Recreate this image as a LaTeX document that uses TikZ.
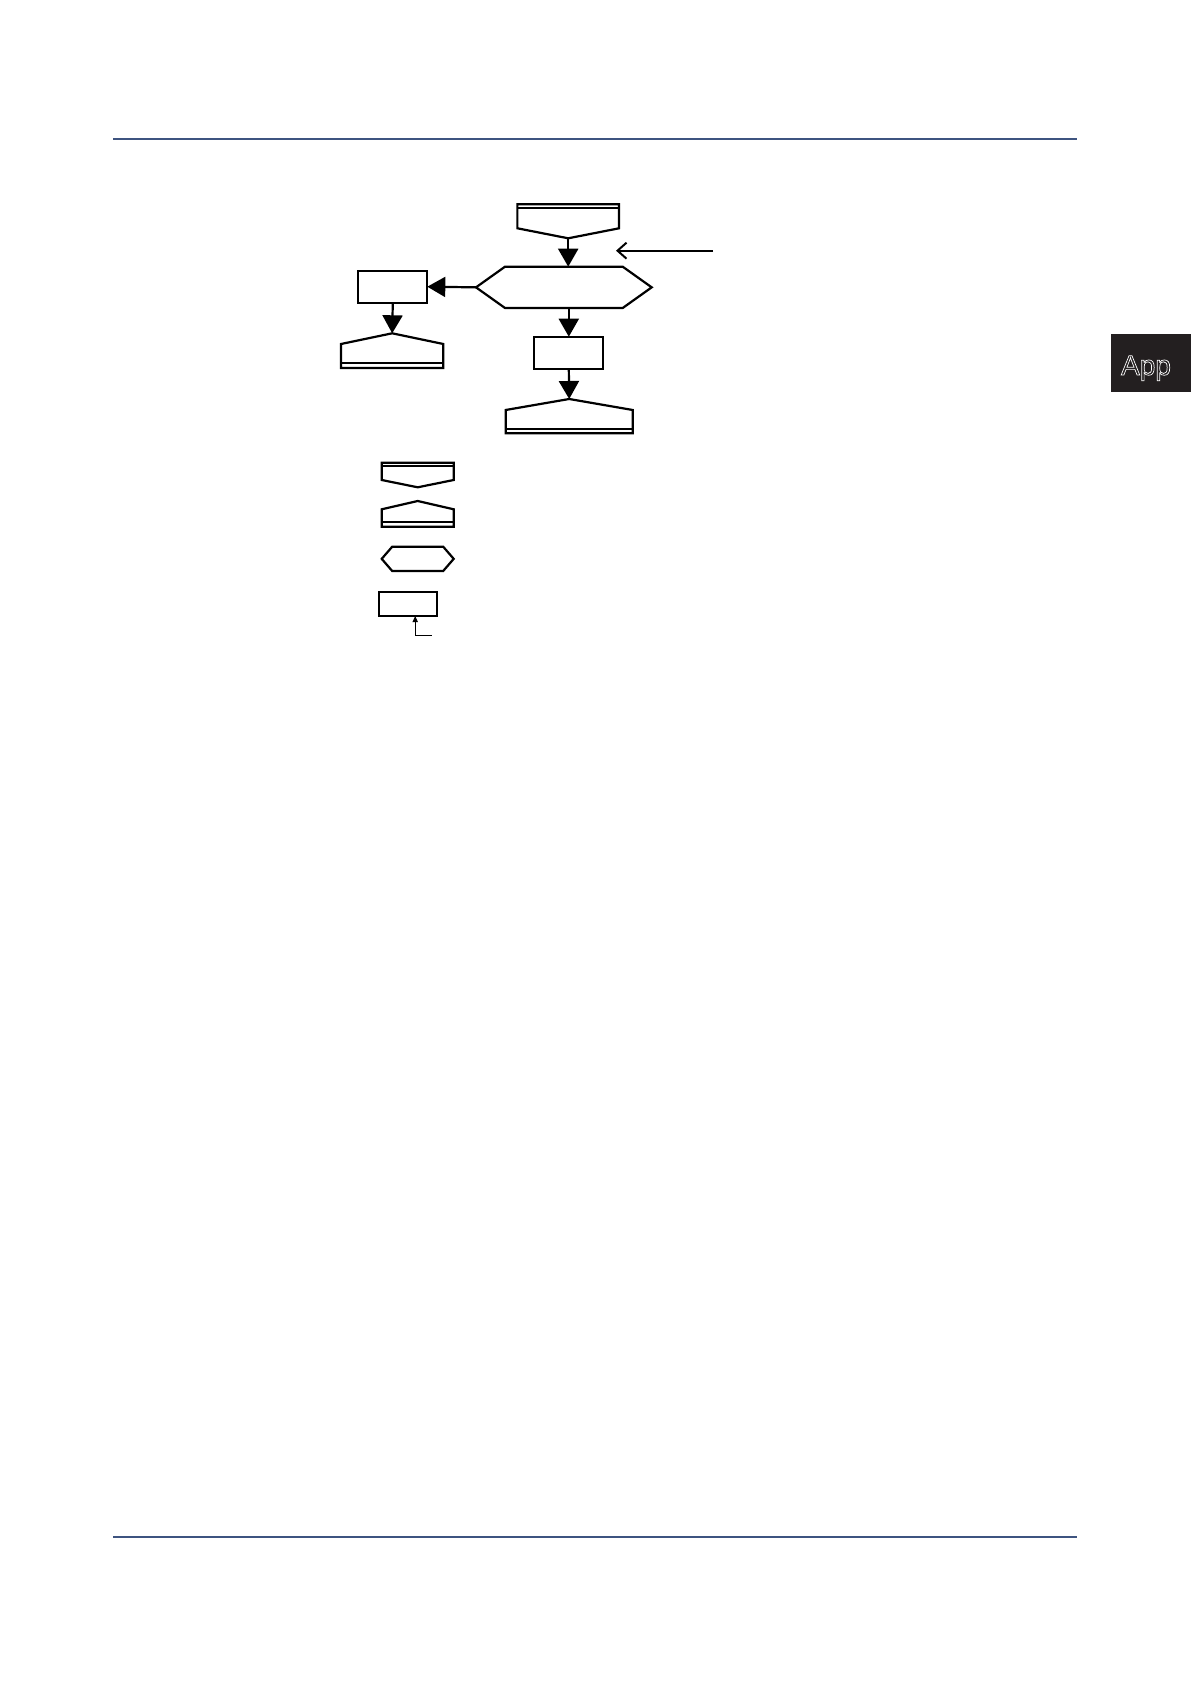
\documentclass[tikz,border=0pt]{standalone}
\usepackage{fontspec}
\setmainfont{Liberation Sans}
\usetikzlibrary{arrows.meta}
\definecolor{bleufilet}{RGB}{62,84,128}
\definecolor{noironglet}{RGB}{35,31,32}
\begin{document}
\begin{tikzpicture}[x=0.5pt,y=-0.5pt]
	\tikzstyle{trait}=[line width=1.1pt,line join=miter]
	\tikzstyle{double}=[line width=0.9pt]
	\tikzstyle{fleche}=[-{Triangle[length=9pt,width=10pt]},line width=1.1pt]
	\tikzstyle{renvoi}=[-{Straight Barb[length=4.5pt,width=8pt]},line width=1pt]
	\tikzstyle{petitefleche}=[-{Triangle[length=3pt,width=2.6pt]},line width=0.5pt]
	\tikzstyle{noeud}=[inner sep=0pt,outer sep=0pt]
	\tikzstyle{boite}=[noeud,draw,line width=1pt]
	\tikzstyle{filet}=[bleufilet,line width=1pt]
	\useasboundingbox (0,0) rectangle (1191,1684);
	% filets de page
	\draw[filet] (113,139.3) -- (1077,139.3);
	\draw[filet] (113,1537) -- (1077,1537);
	% onglet
	\fill[noironglet] (1111,334) rectangle (1191,392);
	% organigramme
	\node[noeud,minimum width=50.85pt,minimum height=17pt] (Debut) at (568.2,221.3) {};
	\node[noeud,minimum width=87.85pt,minimum height=20.65pt] (Test) at (563.85,287.35) {};
	\node[boite,minimum width=34.5pt,minimum height=16pt] (Sortie) at (392.8,286.7) {};
	\node[noeud,minimum width=51.15pt,minimum height=17.35pt] (FinA) at (392.15,350.65) {};
	\node[boite,minimum width=34.5pt,minimum height=16pt] (Action) at (568.8,352.7) {};
	\node[noeud,minimum width=63.5pt,minimum height=17.15pt] (FinB) at (569.2,416.15) {};
	\coordinate (RenvoiA) at (713,250.7);
	\coordinate (RenvoiB) at (616,250.7);
	\draw[trait] (Debut.north west) -- ([yshift=-12pt]Debut.north west) -- (Debut.south) -- ([yshift=-12pt]Debut.north east) -- (Debut.north east) -- cycle;
	\draw[double] ([yshift=-2pt]Debut.north west) -- ([yshift=-2pt]Debut.north east);
	\draw[trait] (Test.west) -- ([xshift=14.5pt]Test.north west) -- ([xshift=-14.5pt]Test.north east) -- (Test.east) -- ([xshift=-14.5pt]Test.south east) -- ([xshift=14.5pt]Test.south west) -- cycle;
	\draw[trait] (FinA.south west) -- ([yshift=-5.35pt]FinA.north west) -- (FinA.north) -- ([yshift=-5.35pt]FinA.north east) -- (FinA.south east) -- cycle;
	\draw[double] ([yshift=2.35pt]FinA.south west) -- ([yshift=2.35pt]FinA.south east);
	\draw[trait] (FinB.south west) -- ([yshift=-5.5pt]FinB.north west) -- (FinB.north) -- ([yshift=-5.5pt]FinB.north east) -- (FinB.south east) -- cycle;
	\draw[double] ([yshift=2.15pt]FinB.south west) -- ([yshift=2.15pt]FinB.south east);
	\draw[fleche] (Debut.south) -- (Debut.south |- Test.north);
	\draw[fleche] (Test.west) -- (Sortie.east);
	\draw[fleche] (Sortie.south) -- (FinA.north);
	\draw[fleche] (Action.north |- Test.south) -- (Action.north);
	\draw[fleche] (Action.south) -- (FinB.north);
	\draw[renvoi] (RenvoiA) -- (RenvoiB);
	% legende
	\node[noeud,minimum width=36pt,minimum height=12.3pt] (LegDebut) at (417.7,475) {};
	\node[noeud,minimum width=36pt,minimum height=12.85pt] (LegFin) at (417.7,513.85) {};
	\node[noeud,minimum width=36pt,minimum height=12.15pt] (LegTest) at (417.7,558.85) {};
	\node[boite,minimum width=28.7pt,minimum height=11.85pt] (LegAction) at (408,604.15) {};
	\coordinate (LegRenvoi) at (431.7,635);
	\draw[trait] (LegDebut.north west) -- ([yshift=-8.65pt]LegDebut.north west) -- (LegDebut.south) -- ([yshift=-8.65pt]LegDebut.north east) -- (LegDebut.north east) -- cycle;
	\draw[double] ([yshift=-1.65pt]LegDebut.north west) -- ([yshift=-1.65pt]LegDebut.north east);
	\draw[trait] (LegFin.south west) -- ([yshift=-4.15pt]LegFin.north west) -- (LegFin.north) -- ([yshift=-4.15pt]LegFin.north east) -- (LegFin.south east) -- cycle;
	\draw[double] ([yshift=2.2pt]LegFin.south west) -- ([yshift=2.2pt]LegFin.south east);
	\draw[trait] (LegTest.west) -- ([xshift=5.25pt]LegTest.north west) -- ([xshift=-5.25pt]LegTest.north east) -- (LegTest.east) -- ([xshift=-5.25pt]LegTest.south east) -- ([xshift=5.25pt]LegTest.south west) -- cycle;
	\draw[petitefleche] (LegRenvoi) -| ([xshift=3.6pt]LegAction.south);
	% texte de l'onglet
	\node[noeud,anchor=base,text=white] (Onglet) at (1146,375) {\fontsize{14}{16}\selectfont\special{pdf:literal q 1 Tr 0.35 w}App\special{pdf:literal Q}};
\end{tikzpicture}
\end{document}
